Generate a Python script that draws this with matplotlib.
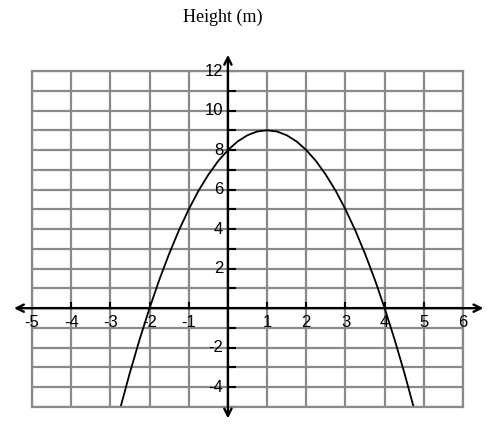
import matplotlib
matplotlib.use('Agg')
import matplotlib.pyplot as plt

# grid and axis values
X_TICKS = [-5, -4, -3, -2, -1, 0, 1, 2, 3, 4, 5, 6]
Y_GRID = list(range(-5, 13))
Y_LABELS = [-4, -2, 2, 4, 6, 8, 10, 12]

# points
CURVE_X = [-2.74, -2.5, -2.25, -2.0, -1.75, -1.5, -1.25, -1.0, -0.75, -0.5, -0.25,
           0.0, 0.25, 0.5, 0.75, 1.0, 1.25, 1.5, 1.75, 2.0, 2.25, 2.5, 2.75,
           3.0, 3.25, 3.5, 3.75, 4.0, 4.25, 4.5, 4.74]
CURVE_Y = [-5.0, -3.25, -1.56, 0.0, 1.44, 2.75, 3.94, 5.0, 5.94, 6.75, 7.44,
           8.0, 8.44, 8.75, 8.94, 9.0, 8.94, 8.75, 8.44, 8.0, 7.44, 6.75, 5.94,
           5.0, 3.94, 2.75, 1.44, 0.0, -1.56, -3.25, -5.0]

GRID_COLOR = '#8a8a8a'
LABEL_FONT = ['Liberation Sans', 'DejaVu Sans']

fig = plt.figure(figsize=(4.93, 4.25), dpi=100)
ax = fig.add_axes([32 / 493, 18 / 425, 431 / 493, 336 / 425])
ax.set_xlim(X_TICKS[0], X_TICKS[-1])
ax.set_ylim(Y_GRID[0], Y_GRID[-1])
ax.set_xticks(X_TICKS)
ax.set_yticks(Y_GRID)
ax.grid(color=GRID_COLOR, linewidth=1.6)
ax.tick_params(length=0, labelbottom=False, labelleft=False)
for s in ax.spines.values():
    s.set_color(GRID_COLOR)
    s.set_linewidth(1.6)

# axes with arrow heads
ax.annotate('', xy=(0, 12.82), xytext=(0, -5.58), annotation_clip=False,
            arrowprops=dict(arrowstyle='<->', lw=1.7, color='black',
                            shrinkA=0, shrinkB=0, mutation_scale=13))
ax.annotate('', xy=(6.52, 0), xytext=(-5.46, 0), annotation_clip=False,
            arrowprops=dict(arrowstyle='<->', lw=1.7, color='black',
                            shrinkA=0, shrinkB=0, mutation_scale=13))

# tick marks
for y in Y_GRID:
    if y != 0:
        ax.plot([0, 0.19], [y, y], color='black', lw=1.5, clip_on=False)
for x in X_TICKS:
    if x != 0:
        ax.plot([x, x], [0, 0.26], color='black', lw=1.5, clip_on=False)

# tick labels
for x in X_TICKS:
    if x != 0:
        ax.text(x, -0.36, str(x), ha='center', va='top', fontsize=12,
                family=LABEL_FONT)
for y in Y_LABELS:
    ax.text(-0.12, y, str(y), ha='right', va='center', fontsize=12,
            family=LABEL_FONT)

ax.plot(CURVE_X, CURVE_Y, color='black', lw=1.3, clip_on=False)

fig.text(223 / 493, 1 - 17 / 425, 'Height (m)', ha='center', va='center',
         fontsize=13, family=['Liberation Serif', 'DejaVu Serif'])

fig.savefig('out.png', dpi=100)
